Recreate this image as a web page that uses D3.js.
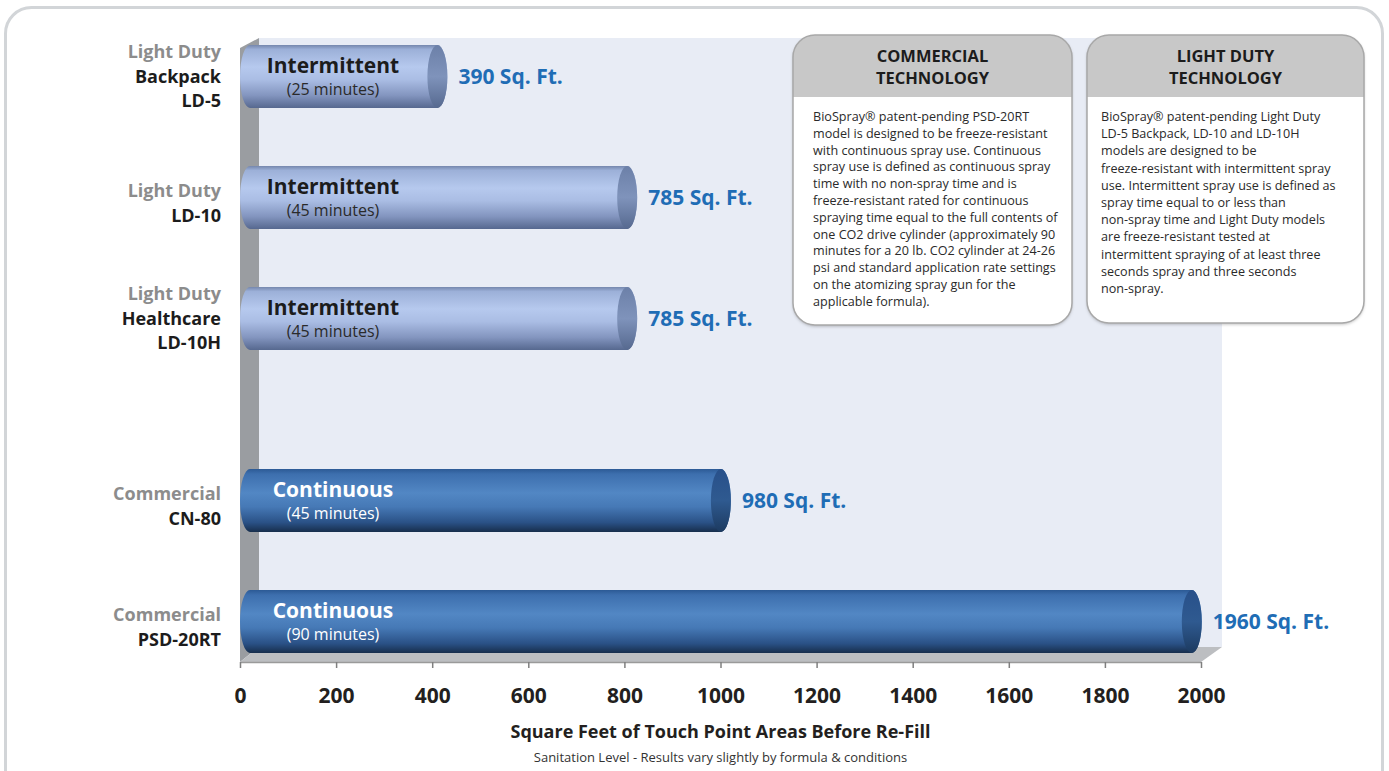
<!DOCTYPE html>
<html>
<head>
<meta charset="utf-8">
<script src="https://cdn.jsdelivr.net/npm/d3@7"></script>
<style>
  body { margin: 0; background: #fff; }
  svg { display: block; font-family: 'Open Sans', sans-serif; }
</style>
</head>
<body>
<svg id="chart"></svg>
<script>
// values
const models = ['LD-5', 'LD-10', 'LD-10H', 'CN-80', 'PSD-20RT'];
const groups = ['Light Duty', 'Light Duty', 'Light Duty', 'Commercial', 'Commercial'];
const nameLines = [['Backpack', 'LD-5'], ['LD-10'], ['Healthcare', 'LD-10H'], ['CN-80'], ['PSD-20RT']];
const sqFt = [390, 785, 785, 980, 1960];
const sprayMode = ['Intermittent', 'Intermittent', 'Intermittent', 'Continuous', 'Continuous'];
const minutes = [25, 45, 45, 45, 90];
const xTicks = [0, 200, 400, 600, 800, 1000, 1200, 1400, 1600, 1800, 2000];

const xTitle = 'Square Feet of Touch Point Areas Before Re-Fill';
const xSubtitle = 'Sanitation Level - Results vary slightly by formula & conditions';

const boxTitles = [['COMMERCIAL', 'TECHNOLOGY'], ['LIGHT DUTY', 'TECHNOLOGY']];
const boxTexts = [
  ['BioSpray\u00ae patent-pending PSD-20RT',
   'model is designed to be freeze-resistant',
   'with continuous spray use. Continuous',
   'spray use is defined as continuous spray',
   'time with no non-spray time and is',
   'freeze-resistant rated for continuous',
   'spraying time equal to the full contents of',
   'one CO2 drive cylinder (approximately 90',
   'minutes for a 20 lb. CO2 cylinder at 24-26',
   'psi and standard application rate settings',
   'on the atomizing spray gun for the',
   'applicable formula).'],
  ['BioSpray\u00ae patent-pending Light Duty',
   'LD-5 Backpack, LD-10 and LD-10H',
   'models are designed to be',
   'freeze-resistant with intermittent spray',
   'use. Intermittent spray use is defined as',
   'spray time equal to or less than',
   'non-spray time and Light Duty models',
   'are freeze-resistant tested at',
   'intermittent spraying of at least three',
   'seconds spray and three seconds',
   'non-spray.']
];

const width = 1389, height = 771;
const rows = models.map((m, i) => ({
  model: m, group: groups[i], lines: nameLines[i], value: sqFt[i],
  mode: sprayMode[i], minutes: minutes[i]
}));

const svg = d3.select('#chart').attr('width', width).attr('height', height);
const defs = svg.append('defs');

function grad(id, stops) {
  const g = defs.append('linearGradient').attr('id', id)
    .attr('x1', 0).attr('y1', 0).attr('x2', 0).attr('y2', 1);
  stops.forEach(s => g.append('stop').attr('offset', s[0]).attr('stop-color', s[1]));
}
grad('gLight', [[0, '#7587ad'], [0.07, '#9cb0d8'], [0.35, '#b6c9ee'], [0.55, '#aabde4'], [0.8, '#8395bf'], [1, '#56688f']]);
grad('gComm', [[0, '#2c5a95'], [0.08, '#3d6fae'], [0.38, '#5287c4'], [0.6, '#4679b6'], [0.85, '#2a5186'], [1, '#172e4c']]);
grad('gLightCap', [[0, '#6c80a8'], [0.5, '#7f93bb'], [1, '#56698f']]);
grad('gCommCap', [[0, '#28508a'], [0.5, '#2f5a90'], [1, '#1c3a60']]);

const shadow = defs.append('filter').attr('id', 'boxShadow')
  .attr('x', '-10%').attr('y', '-10%').attr('width', '120%').attr('height', '120%');
shadow.append('feDropShadow').attr('dx', 0).attr('dy', 1.5).attr('stdDeviation', 1.5)
  .attr('flood-color', '#000').attr('flood-opacity', 0.25);

// outer frame
svg.append('rect').attr('x', 5.5).attr('y', 7.5).attr('width', 1377).attr('height', 790)
  .attr('rx', 26).attr('fill', '#fff').attr('stroke', '#d2d5d8').attr('stroke-width', 3);

const x = d3.scaleLinear().domain([0, 2000]).range([240, 1201]);
const y = d3.scalePoint().domain(models).range([76.5, 560.5]);
const groupGap = 61;
const cy = d => y(d.model) + (d.group === 'Commercial' ? groupGap : 0);
const barH = 63, capRx = 10;

const floorFront = 662, floorBack = 647, depth = 21, plotTop = 38;

// back wall
svg.append('rect').attr('x', x(0) + 19).attr('y', plotTop)
  .attr('width', x(2000) + depth - x(0) - 19).attr('height', floorBack - plotTop)
  .attr('fill', '#e8ecf5');
// left side wall
svg.append('path')
  .attr('d', `M${x(0)},${plotTop + 10} L${x(0) + 19},${plotTop} L${x(0) + 19},${floorBack} L${x(0)},${floorFront} Z`)
  .attr('fill', '#9a9da1');
// floor
svg.append('path')
  .attr('d', `M${x(0)},${floorFront} L${x(2000)},${floorFront} L${x(2000) + depth},${floorBack} L${x(0) + 19},${floorBack} Z`)
  .attr('fill', '#bcbec1');

// axis
const axis = svg.append('g').attr('transform', `translate(0,${floorFront})`)
  .call(d3.axisBottom(x).tickValues(xTicks).tickFormat(d3.format('d')).tickSize(6).tickSizeOuter(0));
axis.select('.domain').attr('stroke', '#9a9a9a').attr('stroke-width', 1.5);
axis.selectAll('.tick line').attr('stroke', '#7f7f7f').attr('stroke-width', 1.5);
axis.selectAll('.tick text').attr('y', 41).attr('dy', null)
  .attr('fill', '#231f20').style('font-size', '21px').style('font-weight', 700)
  .style('font-family', "'Open Sans', sans-serif");

// cylinders
const bars = svg.append('g').selectAll('g').data(rows).join('g');
bars.append('path')
  .attr('d', d => {
    const t = cy(d) - barH / 2, b = cy(d) + barH / 2;
    const x0 = x(0) + capRx, x1 = x(d.value) + capRx;
    return `M${x0},${t} L${x1},${t} A${capRx},${barH / 2} 0 0 1 ${x1},${b} L${x0},${b} A${capRx},${barH / 2} 0 0 1 ${x0},${t} Z`;
  })
  .attr('fill', d => d.group === 'Commercial' ? 'url(#gComm)' : 'url(#gLight)');
bars.append('ellipse')
  .attr('cx', d => x(d.value) + capRx).attr('cy', d => cy(d))
  .attr('rx', capRx).attr('ry', barH / 2)
  .attr('fill', d => d.group === 'Commercial' ? 'url(#gCommCap)' : 'url(#gLightCap)');

const labelX = x(0) + 93;
bars.append('text')
  .attr('x', labelX).attr('y', d => cy(d) - barH / 2 + 28)
  .attr('text-anchor', 'middle')
  .attr('fill', d => d.group === 'Commercial' ? '#fff' : '#1c1c1c')
  .style('font-size', '21px').style('font-weight', 700)
  .text(d => d.mode);
bars.append('text')
  .attr('x', labelX).attr('y', d => cy(d) - barH / 2 + 50)
  .attr('text-anchor', 'middle')
  .attr('fill', d => d.group === 'Commercial' ? '#fff' : '#2a2a2a')
  .style('font-size', '16px')
  .text(d => `(${d.minutes} minutes)`);

// value labels
bars.append('text')
  .attr('x', d => x(d.value) + 31).attr('y', d => cy(d) + 7)
  .attr('fill', '#1f6db5').style('font-size', '21px').style('font-weight', 700)
  .text(d => `${d.value} Sq. Ft.`);

// category labels
bars.each(function (d) {
  const all = [d.group].concat(d.lines);
  const n = all.length;
  const g = d3.select(this);
  all.forEach((s, i) => {
    g.append('text')
      .attr('x', 221)
      .attr('y', cy(d) + 6 + 24.5 * (i - (n - 1) / 2) + (n === 2 ? 6 : 0))
      .attr('text-anchor', 'end')
      .attr('fill', i === 0 ? '#8c8c8c' : '#1c1c1c')
      .style('font-size', '18px').style('font-weight', 700)
      .text(s);
  });
});

// axis titles
svg.append('text').attr('x', x(1000)).attr('y', 738).attr('text-anchor', 'middle')
  .attr('fill', '#231f20').style('font-size', '18px').style('font-weight', 700)
  .text(xTitle);
svg.append('text').attr('x', x(1000)).attr('y', 762).attr('text-anchor', 'middle')
  .attr('fill', '#333').style('font-size', '13px')
  .text(xSubtitle);

// info boxes
const boxes = [
  { x: 793, y: 35, w: 279, h: 290, tx: 813, lh: 16.8 },
  { x: 1087, y: 35, w: 277, h: 288, tx: 1101, lh: 17.2 }
];
const headerH = 62, r = 22;
boxes.forEach((b, k) => {
  const g = svg.append('g');
  g.append('rect').attr('x', b.x).attr('y', b.y).attr('width', b.w).attr('height', b.h)
    .attr('rx', r).attr('fill', '#fff').attr('filter', 'url(#boxShadow)');
  g.append('path')
    .attr('d', `M${b.x},${b.y + headerH} L${b.x},${b.y + r} A${r},${r} 0 0 1 ${b.x + r},${b.y} L${b.x + b.w - r},${b.y} A${r},${r} 0 0 1 ${b.x + b.w},${b.y + r} L${b.x + b.w},${b.y + headerH} Z`)
    .attr('fill', '#c8c8c8');
  g.append('rect').attr('x', b.x).attr('y', b.y).attr('width', b.w).attr('height', b.h)
    .attr('rx', r).attr('fill', 'none').attr('stroke', '#a8a8a8').attr('stroke-width', 1.5);
  boxTitles[k].forEach((t, i) => {
    g.append('text').attr('x', b.x + b.w / 2).attr('y', 62 + i * 21.5)
      .attr('text-anchor', 'middle').attr('fill', '#1c1c1c')
      .style('font-size', '16.5px').style('font-weight', 700).text(t);
  });
  boxTexts[k].forEach((t, i) => {
    g.append('text').attr('x', b.tx).attr('y', 121 + i * b.lh)
      .attr('fill', '#2a2a2a').style('font-size', '12.6px').text(t);
  });
});
</script>
</body>
</html>
